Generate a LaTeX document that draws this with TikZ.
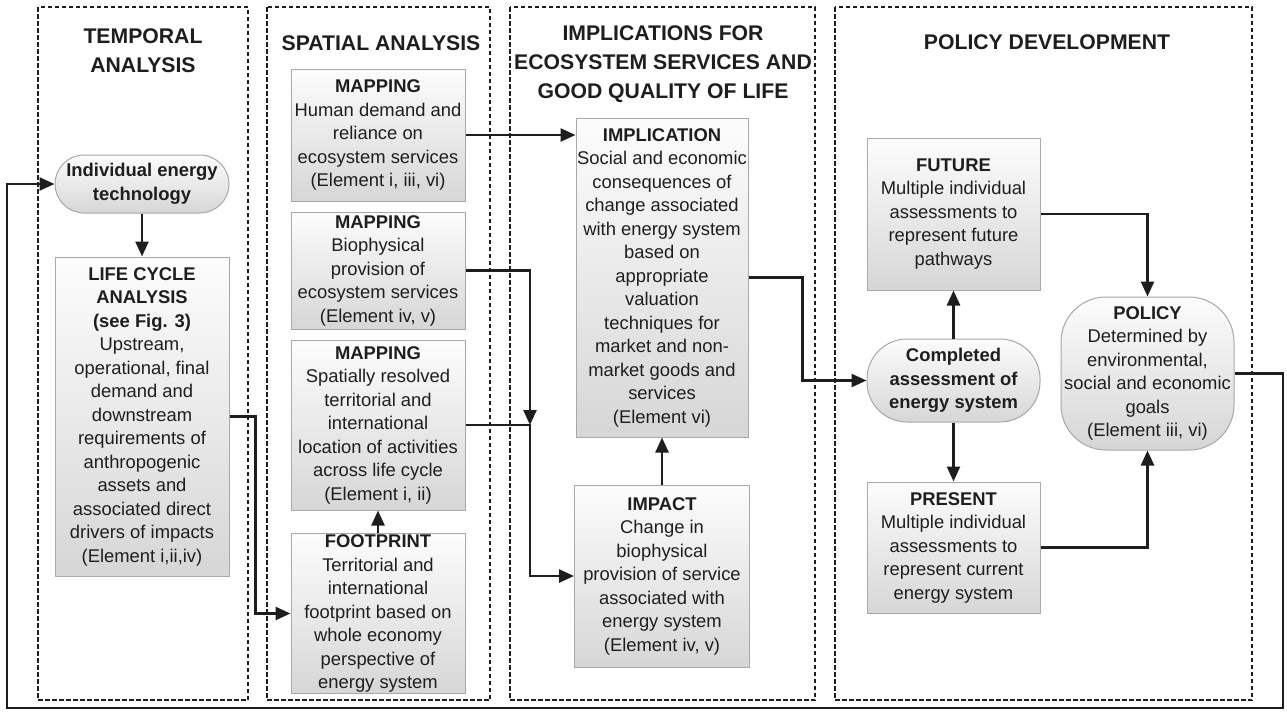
\documentclass[tikz,border=0pt]{standalone}
\usepackage{fontspec}
\setmainfont{Liberation Sans}
\usetikzlibrary{arrows.meta}
\newcommand\bodyfs{\fontsize{18.4}{23.5}\selectfont}
\newcommand\ttlfs{\fontsize{21.2}{29}\selectfont\bfseries}
\definecolor{ink}{HTML}{1E1E1E}
\definecolor{edge}{HTML}{A8A8A8}
\begin{document}
\begin{tikzpicture}[x=1pt,y=-1pt,
  box/.style={draw=edge, line width=1pt, top color=black!1, bottom color=black!16,
              align=center, inner sep=1pt, font=\bodyfs, text=ink},
  pill/.style={box, rounded corners=#1},
  pill/.default=29pt,
  arr/.style={draw=ink, line width=2.5pt, -{Triangle[length=15pt,width=13pt]}},
  frame/.style={draw=ink, line width=2.2pt, dash pattern=on 4.5pt off 2.5pt},
  ttl/.style={font=\ttlfs, text=ink, align=center}]
\useasboundingbox (0,0) rectangle (1287,718);
\fill[white] (0,0) rectangle (1287,718);

% frames
\draw[frame] (38,7) rectangle (248,700);
\draw[frame] (267,7) rectangle (490,700);
\draw[frame] (510,7) rectangle (815,700);
\draw[frame] (835,7) rectangle (1252,700);

% titles
\node[ttl] (t1) at (143,51) {TEMPORAL\\ANALYSIS};
\node[ttl] (t2) at (381,43) {SPATIAL ANALYSIS};
\node[ttl] (t3) at (663,64.5) {IMPLICATIONS FOR\\ECOSYSTEM SERVICES AND\\GOOD QUALITY OF LIFE};
\node[ttl] (t4) at (1047,42) {POLICY DEVELOPMENT};

% temporal
\node[pill, minimum width=174pt, minimum height=58pt] (ind) at (142,184)
  {\textbf{Individual energy}\\\textbf{technology}};
\node[box, minimum width=174pt, minimum height=319pt] (lca) at (142,416.5)
  {\textbf{LIFE CYCLE}\\\textbf{ANALYSIS}\\\textbf{(see Fig. 3)}\\Upstream,\\operational, final\\demand and\\downstream\\requirements of\\anthropogenic\\assets and\\associated direct\\drivers of impacts\\(Element i,ii,iv)};

% spatial
\node[box, minimum width=174pt, minimum height=132pt] (map1) at (378,135)
  {\textbf{MAPPING}\\Human demand and\\reliance on\\ecosystem services\\(Element i, iii, vi)};
\node[box, minimum width=174pt, minimum height=117pt] (map2) at (378,270.5)
  {\textbf{MAPPING}\\Biophysical\\provision of\\ecosystem services\\(Element iv, v)};
\node[box, minimum width=174pt, minimum height=170pt] (map3) at (378,425)
  {\textbf{MAPPING}\\Spatially resolved\\territorial and\\international\\location of activities\\across life cycle\\(Element i, ii)};
\node[box, minimum width=174pt, minimum height=159pt] (foot) at (378,613.5)
  {\textbf{FOOTPRINT}\\Territorial and\\international\\footprint based on\\whole economy\\perspective of\\energy system};

% implications
\node[box, minimum width=172pt, minimum height=319pt] (impl) at (662,277.5)
  {\textbf{IMPLICATION}\\Social and economic\\consequences of\\change associated\\with energy system\\based on\\appropriate\\valuation\\techniques for\\market and non-\\market goods and\\services\\(Element vi)};
\node[box, minimum width=175pt, minimum height=182pt] (imp) at (662,576)
  {\textbf{IMPACT}\\Change in\\biophysical\\provision of service\\associated with\\energy system\\(Element iv, v)};

% policy development
\node[box, minimum width=173pt, minimum height=152pt] (fut) at (953.5,214)
  {\textbf{FUTURE}\\Multiple individual\\assessments to\\represent future\\pathways};
\node[pill=40pt, minimum width=173pt, minimum height=83pt] (comp) at (953.5,380.5)
  {\textbf{Completed}\\\textbf{assessment of}\\\textbf{energy system}};
\node[box, minimum width=173pt, minimum height=131pt] (pres) at (953.5,547.5)
  {\textbf{PRESENT}\\Multiple individual\\assessments to\\represent current\\energy system};
\node[pill=45pt, minimum width=173pt, minimum height=153pt] (pol) at (1147.5,373.5)
  {\textbf{POLICY}\\Determined by\\environmental,\\social and economic\\goals\\(Element iii, vi)};

% helper coordinates
\coordinate (loopR) at (1283,708);
\coordinate (loopL) at (7,708);
\coordinate (jn) at (530,425);

% connectors
\draw[arr] (pol.east) -| (loopR) -- (loopL) |- (ind.west);
\draw[arr] (ind.south) -- (lca.north);
\draw[arr] (lca.east) -- ++(26,0) |- (foot.west);
\draw[arr] (foot.north) -- (map3.south);
\draw[arr] (map1.east) -- (map1.east -| impl.west);
\draw[arr] (map2.east) -| (jn);
\draw[arr] (map3.east) -- (jn) |- (imp.west);
\draw[arr] (imp.north) -- (impl.south);
\draw[arr] (impl.east) -- ++(54,0) |- (comp.west);
\draw[arr] (comp.north) -- (fut.south);
\draw[arr] (comp.south) -- (pres.north);
\draw[arr] (fut.east) -| (pol.north);
\draw[arr] (pres.east) -| (pol.south);
\end{tikzpicture}
\end{document}
